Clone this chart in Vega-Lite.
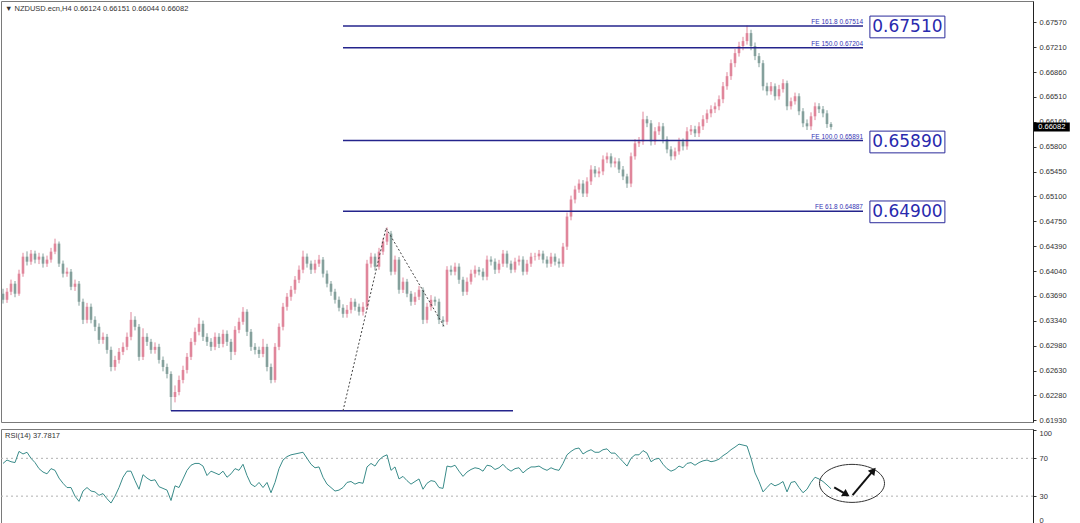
{
"$schema":"https://vega.github.io/schema/vega-lite/v6.json",
"padding":0,
"spacing":3,
"background":"white",
"config":{"view":{"stroke":"#7a7a7a","strokeWidth":1},"text":{"font":"Liberation Sans"},"axis":{"labelOverlap":false,"labelSeparation":0,"labelBound":false}},
"datasets":{
"bars":[
{"i":0,"o":0.63720,"h":0.63790,"l":0.63580,"c":0.63634,"r":64.6},
{"i":1,"o":0.63634,"h":0.63800,"l":0.63590,"c":0.63748,"r":68.2},
{"i":2,"o":0.63748,"h":0.63920,"l":0.63700,"c":0.63862,"r":66.4},
{"i":3,"o":0.63862,"h":0.63900,"l":0.63670,"c":0.63720,"r":65.5},
{"i":4,"o":0.63720,"h":0.64060,"l":0.63690,"c":0.64004,"r":77.3},
{"i":5,"o":0.64004,"h":0.64300,"l":0.63960,"c":0.64245,"r":74.6},
{"i":6,"o":0.64245,"h":0.64320,"l":0.64120,"c":0.64174,"r":76.4},
{"i":7,"o":0.64174,"h":0.64340,"l":0.64130,"c":0.64288,"r":70},
{"i":8,"o":0.64288,"h":0.64330,"l":0.64150,"c":0.64203,"r":65.5},
{"i":9,"o":0.64203,"h":0.64300,"l":0.64140,"c":0.64245,"r":59.1},
{"i":10,"o":0.64245,"h":0.64290,"l":0.64090,"c":0.64146,"r":55.5},
{"i":11,"o":0.64146,"h":0.64260,"l":0.64100,"c":0.64203,"r":53.6},
{"i":12,"o":0.64203,"h":0.64370,"l":0.64160,"c":0.64316,"r":59.1},
{"i":13,"o":0.64316,"h":0.64500,"l":0.64280,"c":0.64430,"r":57.3},
{"i":14,"o":0.64430,"h":0.64460,"l":0.64100,"c":0.64146,"r":49.1},
{"i":15,"o":0.64146,"h":0.64190,"l":0.63950,"c":0.64004,"r":43.6},
{"i":16,"o":0.64004,"h":0.64090,"l":0.63960,"c":0.64032,"r":39.1},
{"i":17,"o":0.64032,"h":0.64070,"l":0.63770,"c":0.63818,"r":39.1},
{"i":18,"o":0.63818,"h":0.63920,"l":0.63760,"c":0.63862,"r":30},
{"i":19,"o":0.63862,"h":0.63900,"l":0.63550,"c":0.63606,"r":24.5},
{"i":20,"o":0.63606,"h":0.63650,"l":0.63290,"c":0.63350,"r":35.4},
{"i":21,"o":0.63350,"h":0.63590,"l":0.63300,"c":0.63535,"r":39.1},
{"i":22,"o":0.63535,"h":0.63580,"l":0.63300,"c":0.63350,"r":35.4},
{"i":23,"o":0.63350,"h":0.63400,"l":0.63190,"c":0.63251,"r":34.5},
{"i":24,"o":0.63251,"h":0.63300,"l":0.63010,"c":0.63066,"r":30.9},
{"i":25,"o":0.63066,"h":0.63170,"l":0.63010,"c":0.63109,"r":32.7},
{"i":26,"o":0.63109,"h":0.63150,"l":0.62870,"c":0.62924,"r":27.3},
{"i":27,"o":0.62924,"h":0.62970,"l":0.62620,"c":0.62682,"r":22.7},
{"i":28,"o":0.62682,"h":0.62840,"l":0.62630,"c":0.62782,"r":30},
{"i":29,"o":0.62782,"h":0.62950,"l":0.62730,"c":0.62896,"r":39.1},
{"i":30,"o":0.62896,"h":0.63030,"l":0.62850,"c":0.62967,"r":50},
{"i":31,"o":0.62967,"h":0.63170,"l":0.62920,"c":0.63109,"r":56.4},
{"i":32,"o":0.63109,"h":0.63460,"l":0.63060,"c":0.63350,"r":56.4},
{"i":33,"o":0.63350,"h":0.63400,"l":0.63200,"c":0.63251,"r":46.4},
{"i":34,"o":0.63251,"h":0.63290,"l":0.62770,"c":0.62825,"r":37.3},
{"i":35,"o":0.62825,"h":0.63230,"l":0.62780,"c":0.63109,"r":52.7},
{"i":36,"o":0.63109,"h":0.63160,"l":0.62980,"c":0.63038,"r":49.1},
{"i":37,"o":0.63038,"h":0.63080,"l":0.62870,"c":0.62924,"r":46.4},
{"i":38,"o":0.62924,"h":0.63030,"l":0.62870,"c":0.62967,"r":47.3},
{"i":39,"o":0.62967,"h":0.63010,"l":0.62730,"c":0.62782,"r":40},
{"i":40,"o":0.62782,"h":0.62830,"l":0.62620,"c":0.62682,"r":38.2},
{"i":41,"o":0.62682,"h":0.62730,"l":0.62520,"c":0.62583,"r":36.4},
{"i":42,"o":0.62583,"h":0.62620,"l":0.62060,"c":0.62256,"r":25.4},
{"i":43,"o":0.62256,"h":0.62420,"l":0.62180,"c":0.62327,"r":40.9},
{"i":44,"o":0.62327,"h":0.62560,"l":0.62280,"c":0.62498,"r":39.1},
{"i":45,"o":0.62498,"h":0.62700,"l":0.62450,"c":0.62640,"r":48.2},
{"i":46,"o":0.62640,"h":0.62880,"l":0.62590,"c":0.62825,"r":57.3},
{"i":47,"o":0.62825,"h":0.63090,"l":0.62780,"c":0.63038,"r":62.7},
{"i":48,"o":0.63038,"h":0.63240,"l":0.62990,"c":0.63180,"r":64.6},
{"i":49,"o":0.63180,"h":0.63380,"l":0.63130,"c":0.63293,"r":64.6},
{"i":50,"o":0.63293,"h":0.63340,"l":0.63050,"c":0.63109,"r":61.8},
{"i":51,"o":0.63109,"h":0.63160,"l":0.62980,"c":0.63038,"r":51.8},
{"i":52,"o":0.63038,"h":0.63090,"l":0.62910,"c":0.62967,"r":56.4},
{"i":53,"o":0.62967,"h":0.63170,"l":0.62920,"c":0.63109,"r":54.6},
{"i":54,"o":0.63109,"h":0.63160,"l":0.62950,"c":0.63009,"r":52.7},
{"i":55,"o":0.63009,"h":0.63210,"l":0.62960,"c":0.63151,"r":56.4},
{"i":56,"o":0.63151,"h":0.63200,"l":0.62980,"c":0.63038,"r":50},
{"i":57,"o":0.63038,"h":0.63080,"l":0.62780,"c":0.62896,"r":53.6},
{"i":58,"o":0.62896,"h":0.63260,"l":0.62850,"c":0.63208,"r":59.1},
{"i":59,"o":0.63208,"h":0.63380,"l":0.63160,"c":0.63322,"r":57.3},
{"i":60,"o":0.63322,"h":0.63530,"l":0.63280,"c":0.63464,"r":63.7},
{"i":61,"o":0.63464,"h":0.63500,"l":0.63120,"c":0.63180,"r":51.8},
{"i":62,"o":0.63180,"h":0.63220,"l":0.62910,"c":0.62967,"r":42.7},
{"i":63,"o":0.62967,"h":0.63020,"l":0.62860,"c":0.62924,"r":40},
{"i":64,"o":0.62924,"h":0.62970,"l":0.62810,"c":0.62867,"r":44.5},
{"i":65,"o":0.62867,"h":0.63080,"l":0.62820,"c":0.62967,"r":39.1},
{"i":66,"o":0.62967,"h":0.63010,"l":0.62620,"c":0.62682,"r":44.5},
{"i":67,"o":0.62682,"h":0.62730,"l":0.62450,"c":0.62498,"r":33.6},
{"i":68,"o":0.62498,"h":0.63020,"l":0.62460,"c":0.62967,"r":44.5},
{"i":69,"o":0.62967,"h":0.63300,"l":0.62920,"c":0.63251,"r":59.1},
{"i":70,"o":0.63251,"h":0.63590,"l":0.63200,"c":0.63535,"r":68.2},
{"i":71,"o":0.63535,"h":0.63730,"l":0.63480,"c":0.63677,"r":71.8},
{"i":72,"o":0.63677,"h":0.63830,"l":0.63620,"c":0.63776,"r":73.7},
{"i":73,"o":0.63776,"h":0.63970,"l":0.63720,"c":0.63918,"r":74.6},
{"i":74,"o":0.63918,"h":0.64120,"l":0.63870,"c":0.64060,"r":75.5},
{"i":75,"o":0.64060,"h":0.64330,"l":0.64010,"c":0.64245,"r":76.4},
{"i":76,"o":0.64245,"h":0.64290,"l":0.64090,"c":0.64146,"r":70},
{"i":77,"o":0.64146,"h":0.64190,"l":0.64000,"c":0.64060,"r":63.7},
{"i":78,"o":0.64060,"h":0.64200,"l":0.64010,"c":0.64146,"r":60},
{"i":79,"o":0.64146,"h":0.64270,"l":0.64100,"c":0.64203,"r":60.9},
{"i":80,"o":0.64203,"h":0.64240,"l":0.63950,"c":0.64004,"r":50},
{"i":81,"o":0.64004,"h":0.64050,"l":0.63810,"c":0.63862,"r":42.7},
{"i":82,"o":0.63862,"h":0.63900,"l":0.63690,"c":0.63748,"r":39.1},
{"i":83,"o":0.63748,"h":0.63790,"l":0.63580,"c":0.63634,"r":35.4},
{"i":84,"o":0.63634,"h":0.63680,"l":0.63470,"c":0.63521,"r":36.4},
{"i":85,"o":0.63521,"h":0.63570,"l":0.63380,"c":0.63435,"r":39.1},
{"i":86,"o":0.63435,"h":0.63560,"l":0.63380,"c":0.63492,"r":44.5},
{"i":87,"o":0.63492,"h":0.63660,"l":0.63440,"c":0.63606,"r":45.5},
{"i":88,"o":0.63606,"h":0.63650,"l":0.63480,"c":0.63535,"r":42.7},
{"i":89,"o":0.63535,"h":0.63580,"l":0.63410,"c":0.63464,"r":44.5},
{"i":90,"o":0.63464,"h":0.63600,"l":0.63410,"c":0.63535,"r":43.6},
{"i":91,"o":0.63535,"h":0.64200,"l":0.63490,"c":0.64146,"r":60.9},
{"i":92,"o":0.64146,"h":0.64300,"l":0.64090,"c":0.64245,"r":64.6},
{"i":93,"o":0.64245,"h":0.64290,"l":0.64050,"c":0.64103,"r":61.8},
{"i":94,"o":0.64103,"h":0.64370,"l":0.64060,"c":0.64316,"r":68.2},
{"i":95,"o":0.64316,"h":0.64510,"l":0.64270,"c":0.64458,"r":71.8},
{"i":96,"o":0.64458,"h":0.64660,"l":0.64410,"c":0.64572,"r":73.7},
{"i":97,"o":0.64572,"h":0.64610,"l":0.63980,"c":0.64032,"r":57.3},
{"i":98,"o":0.64032,"h":0.64260,"l":0.63990,"c":0.64203,"r":60.9},
{"i":99,"o":0.64203,"h":0.64240,"l":0.63720,"c":0.63776,"r":48.2},
{"i":100,"o":0.63776,"h":0.63950,"l":0.63730,"c":0.63890,"r":50.9},
{"i":101,"o":0.63890,"h":0.63930,"l":0.63670,"c":0.63720,"r":46.4},
{"i":102,"o":0.63720,"h":0.63760,"l":0.63550,"c":0.63606,"r":42.7},
{"i":103,"o":0.63606,"h":0.63740,"l":0.63560,"c":0.63677,"r":45.5},
{"i":104,"o":0.63677,"h":0.63830,"l":0.63630,"c":0.63776,"r":48.2},
{"i":105,"o":0.63776,"h":0.63810,"l":0.63290,"c":0.63350,"r":37.3},
{"i":106,"o":0.63350,"h":0.63590,"l":0.63300,"c":0.63535,"r":43.6},
{"i":107,"o":0.63535,"h":0.63700,"l":0.63480,"c":0.63634,"r":46.4},
{"i":108,"o":0.63634,"h":0.63680,"l":0.63550,"c":0.63606,"r":45.5},
{"i":109,"o":0.63606,"h":0.63650,"l":0.63290,"c":0.63350,"r":39.1},
{"i":110,"o":0.63350,"h":0.63400,"l":0.63250,"c":0.63322,"r":38.2},
{"i":111,"o":0.63322,"h":0.64110,"l":0.63280,"c":0.64060,"r":61.8},
{"i":112,"o":0.64060,"h":0.64120,"l":0.63980,"c":0.64032,"r":60.9},
{"i":113,"o":0.64032,"h":0.64160,"l":0.63980,"c":0.64103,"r":62.7},
{"i":114,"o":0.64103,"h":0.64150,"l":0.63860,"c":0.63918,"r":56.4},
{"i":115,"o":0.63918,"h":0.63960,"l":0.63690,"c":0.63748,"r":50.9},
{"i":116,"o":0.63748,"h":0.63950,"l":0.63700,"c":0.63890,"r":55.5},
{"i":117,"o":0.63890,"h":0.64060,"l":0.63850,"c":0.64004,"r":58.2},
{"i":118,"o":0.64004,"h":0.64120,"l":0.63950,"c":0.64060,"r":60},
{"i":119,"o":0.64060,"h":0.64100,"l":0.63980,"c":0.64032,"r":59.1},
{"i":120,"o":0.64032,"h":0.64080,"l":0.63910,"c":0.63961,"r":56.4},
{"i":121,"o":0.63961,"h":0.64260,"l":0.63910,"c":0.64203,"r":62.7},
{"i":122,"o":0.64203,"h":0.64250,"l":0.64120,"c":0.64174,"r":61.8},
{"i":123,"o":0.64174,"h":0.64220,"l":0.64000,"c":0.64060,"r":58.2},
{"i":124,"o":0.64060,"h":0.64200,"l":0.64010,"c":0.64146,"r":60},
{"i":125,"o":0.64146,"h":0.64340,"l":0.64100,"c":0.64288,"r":63.7},
{"i":126,"o":0.64288,"h":0.64330,"l":0.64090,"c":0.64146,"r":59.1},
{"i":127,"o":0.64146,"h":0.64190,"l":0.64010,"c":0.64060,"r":56.4},
{"i":128,"o":0.64060,"h":0.64230,"l":0.64020,"c":0.64174,"r":59.1},
{"i":129,"o":0.64174,"h":0.64260,"l":0.64120,"c":0.64203,"r":60},
{"i":130,"o":0.64203,"h":0.64250,"l":0.63980,"c":0.64032,"r":54.6},
{"i":131,"o":0.64032,"h":0.64200,"l":0.63990,"c":0.64146,"r":58.2},
{"i":132,"o":0.64146,"h":0.64300,"l":0.64100,"c":0.64245,"r":60.9},
{"i":133,"o":0.64245,"h":0.64300,"l":0.64190,"c":0.64250,"r":60.9},
{"i":134,"o":0.64250,"h":0.64340,"l":0.64200,"c":0.64288,"r":61.8},
{"i":135,"o":0.64288,"h":0.64330,"l":0.64150,"c":0.64203,"r":59.1},
{"i":136,"o":0.64203,"h":0.64250,"l":0.64090,"c":0.64146,"r":57.3},
{"i":137,"o":0.64146,"h":0.64300,"l":0.64100,"c":0.64245,"r":60},
{"i":138,"o":0.64245,"h":0.64290,"l":0.64120,"c":0.64174,"r":58.2},
{"i":139,"o":0.64174,"h":0.64220,"l":0.64090,"c":0.64146,"r":57.3},
{"i":140,"o":0.64146,"h":0.64440,"l":0.64100,"c":0.64387,"r":64.6},
{"i":141,"o":0.64387,"h":0.64870,"l":0.64340,"c":0.64813,"r":73.7},
{"i":142,"o":0.64813,"h":0.65110,"l":0.64760,"c":0.65055,"r":77.3},
{"i":143,"o":0.65055,"h":0.65250,"l":0.65000,"c":0.65197,"r":80},
{"i":144,"o":0.65197,"h":0.65340,"l":0.65150,"c":0.65281,"r":80.9},
{"i":145,"o":0.65281,"h":0.65330,"l":0.65090,"c":0.65140,"r":74.6},
{"i":146,"o":0.65140,"h":0.65370,"l":0.65090,"c":0.65311,"r":77.3},
{"i":147,"o":0.65311,"h":0.65540,"l":0.65260,"c":0.65480,"r":79.1},
{"i":148,"o":0.65480,"h":0.65530,"l":0.65370,"c":0.65424,"r":76.4},
{"i":149,"o":0.65424,"h":0.65510,"l":0.65370,"c":0.65453,"r":76.4},
{"i":150,"o":0.65453,"h":0.65680,"l":0.65400,"c":0.65623,"r":79.1},
{"i":151,"o":0.65623,"h":0.65720,"l":0.65570,"c":0.65667,"r":80},
{"i":152,"o":0.65667,"h":0.65710,"l":0.65510,"c":0.65566,"r":75.5},
{"i":153,"o":0.65566,"h":0.65650,"l":0.65510,"c":0.65595,"r":75.5},
{"i":154,"o":0.65595,"h":0.65640,"l":0.65430,"c":0.65480,"r":70.9},
{"i":155,"o":0.65480,"h":0.65530,"l":0.65330,"c":0.65382,"r":66.4},
{"i":156,"o":0.65382,"h":0.65420,"l":0.65220,"c":0.65281,"r":61.8},
{"i":157,"o":0.65281,"h":0.65720,"l":0.65230,"c":0.65667,"r":70},
{"i":158,"o":0.65667,"h":0.65910,"l":0.65620,"c":0.65851,"r":73.7},
{"i":159,"o":0.65851,"h":0.65940,"l":0.65800,"c":0.65878,"r":73.7},
{"i":160,"o":0.65878,"h":0.66300,"l":0.65830,"c":0.66192,"r":78.2},
{"i":161,"o":0.66192,"h":0.66240,"l":0.66080,"c":0.66135,"r":75.5},
{"i":162,"o":0.66135,"h":0.66180,"l":0.65820,"c":0.65878,"r":66.4},
{"i":163,"o":0.65878,"h":0.66080,"l":0.65830,"c":0.66021,"r":69.1},
{"i":164,"o":0.66021,"h":0.66150,"l":0.65970,"c":0.66092,"r":70},
{"i":165,"o":0.66092,"h":0.66140,"l":0.65850,"c":0.65907,"r":63.7},
{"i":166,"o":0.65907,"h":0.65950,"l":0.65710,"c":0.65765,"r":59.1},
{"i":167,"o":0.65765,"h":0.65810,"l":0.65610,"c":0.65667,"r":56.4},
{"i":168,"o":0.65667,"h":0.65790,"l":0.65620,"c":0.65737,"r":58.2},
{"i":169,"o":0.65737,"h":0.65930,"l":0.65690,"c":0.65878,"r":61.8},
{"i":170,"o":0.65878,"h":0.65920,"l":0.65750,"c":0.65808,"r":60},
{"i":171,"o":0.65808,"h":0.66080,"l":0.65760,"c":0.66021,"r":64.6},
{"i":172,"o":0.66021,"h":0.66110,"l":0.65970,"c":0.66050,"r":65.5},
{"i":173,"o":0.66050,"h":0.66100,"l":0.65940,"c":0.65993,"r":62.7},
{"i":174,"o":0.65993,"h":0.66150,"l":0.65940,"c":0.66092,"r":65.5},
{"i":175,"o":0.66092,"h":0.66250,"l":0.66040,"c":0.66192,"r":67.3},
{"i":176,"o":0.66192,"h":0.66330,"l":0.66140,"c":0.66276,"r":68.2},
{"i":177,"o":0.66276,"h":0.66390,"l":0.66220,"c":0.66334,"r":66.4},
{"i":178,"o":0.66334,"h":0.66430,"l":0.66280,"c":0.66376,"r":67.3},
{"i":179,"o":0.66376,"h":0.66530,"l":0.66320,"c":0.66476,"r":69.1},
{"i":180,"o":0.66476,"h":0.66720,"l":0.66420,"c":0.66660,"r":72.8},
{"i":181,"o":0.66660,"h":0.66860,"l":0.66610,"c":0.66803,"r":75.5},
{"i":182,"o":0.66803,"h":0.67040,"l":0.66750,"c":0.66987,"r":79.1},
{"i":183,"o":0.66987,"h":0.67190,"l":0.66930,"c":0.67129,"r":81.9},
{"i":184,"o":0.67129,"h":0.67290,"l":0.67080,"c":0.67229,"r":85},
{"i":185,"o":0.67229,"h":0.67360,"l":0.67170,"c":0.67300,"r":84},
{"i":186,"o":0.67300,"h":0.67520,"l":0.67250,"c":0.67413,"r":83},
{"i":187,"o":0.67413,"h":0.67460,"l":0.67170,"c":0.67229,"r":70},
{"i":188,"o":0.67229,"h":0.67280,"l":0.67030,"c":0.67087,"r":54.6},
{"i":189,"o":0.67087,"h":0.67130,"l":0.66930,"c":0.66987,"r":45.5},
{"i":190,"o":0.66987,"h":0.67030,"l":0.66600,"c":0.66660,"r":34.5},
{"i":191,"o":0.66660,"h":0.66710,"l":0.66530,"c":0.66589,"r":39.1},
{"i":192,"o":0.66589,"h":0.66720,"l":0.66540,"c":0.66660,"r":43.6},
{"i":193,"o":0.66660,"h":0.66700,"l":0.66460,"c":0.66518,"r":40.9},
{"i":194,"o":0.66518,"h":0.66680,"l":0.66470,"c":0.66618,"r":42.7},
{"i":195,"o":0.66618,"h":0.66760,"l":0.66570,"c":0.66703,"r":45.5},
{"i":196,"o":0.66703,"h":0.66740,"l":0.66320,"c":0.66376,"r":34.5},
{"i":197,"o":0.66376,"h":0.66500,"l":0.66330,"c":0.66447,"r":44.5},
{"i":198,"o":0.66447,"h":0.66570,"l":0.66400,"c":0.66518,"r":45.5},
{"i":199,"o":0.66518,"h":0.66560,"l":0.66250,"c":0.66305,"r":39.1},
{"i":200,"o":0.66305,"h":0.66350,"l":0.66080,"c":0.66135,"r":33.6},
{"i":201,"o":0.66135,"h":0.66190,"l":0.66040,"c":0.66092,"r":37.3},
{"i":202,"o":0.66092,"h":0.66290,"l":0.66040,"c":0.66234,"r":44.5},
{"i":203,"o":0.66234,"h":0.66430,"l":0.66180,"c":0.66376,"r":50},
{"i":204,"o":0.66376,"h":0.66420,"l":0.66280,"c":0.66334,"r":48.2},
{"i":205,"o":0.66334,"h":0.66380,"l":0.66220,"c":0.66276,"r":45.5},
{"i":206,"o":0.66276,"h":0.66320,"l":0.66070,"c":0.66124,"r":41.8},
{"i":207,"o":0.66124,"h":0.66151,"l":0.66044,"c":0.66082,"r":37.7817}
],
"levels":[
{"lab":"FE 161.8  0.67514","p":0.67514,"a":85,"b":215},
{"lab":"FE 150.0  0.67204","p":0.67204,"a":85,"b":215},
{"lab":"FE 100.0  0.65891","p":0.65891,"a":85,"b":215},
{"lab":"FE 61.8  0.64887","p":0.64887,"a":85,"b":215}
],
"boxes":[
{"t":"0.67510","p":0.67500,"i":226.1},
{"t":"0.65890","p":0.65870,"i":226.1},
{"t":"0.64900","p":0.64880,"i":226.1}
],
"base":[{"p":0.62060,"a":42,"b":127.5}],
"zig":[
{"k":1,"i":85,"p":0.62060},
{"k":2,"i":95.75,"p":0.64650},
{"k":3,"i":110.25,"p":0.63260}
],
"head":[{"t":"▼ NZDUSD.ecn,H4  0.66124 0.66151 0.66044 0.66082","i":0.5,"p":0.67752}],
"tag":[{"t":"0.66082","i":262.2,"p":0.66082}],
"rsihead":[{"t":"RSI(14) 37.7817","i":0.5,"r":94}],
"oval":[{"i":212.25,"r":43.5}],
"arrow1":[{"i":207.8,"r":39.4,"i2":210.6,"r2":32.5}],
"arrow2":[{"i":212.4,"r":31,"i2":217.4,"r2":56.1}]
},
"vconcat":[
{
"width":1032,"height":421,
"layer":[
{"data":{"name":"bars"},"mark":{"type":"rule","strokeWidth":1},
 "encoding":{
  "x":{"field":"i","type":"quantitative","scale":{"domain":[-0.5,257.5],"nice":false,"zero":false},"axis":null},
  "y":{"field":"l","type":"quantitative","scale":{"domain":[0.61902,0.67868],"nice":false,"zero":false},
       "axis":{"orient":"right","values":[0.6193,0.6228,0.6263,0.6298,0.6334,0.6369,0.6404,0.6439,0.6475,0.651,0.6545,0.658,0.6616,0.6651,0.6686,0.6721,0.6757],"tickCount":60,"format":".5f","labelOverlap":false,"labelFont":"Liberation Sans","labelFontSize":7.5,"labelColor":"#333","tickSize":3,"tickColor":"#333","domainColor":"#222","grid":false,"title":null,"labelPadding":3}},
  "y2":{"field":"h"},
  "color":{"condition":{"test":"datum.c >= datum.o","value":"#e0869b"},"value":"#84a09c"}}},
{"data":{"name":"bars"},"mark":{"type":"rule","strokeWidth":2.6,"strokeCap":"butt"},
 "encoding":{
  "x":{"field":"i","type":"quantitative"},
  "y":{"field":"o","type":"quantitative"},
  "y2":{"field":"c"},
  "color":{"condition":{"test":"datum.c >= datum.o","value":"#e0869b"},"value":"#84a09c"}}},
{"data":{"name":"levels"},"mark":{"type":"rule","color":"#24248c","strokeWidth":1.5},
 "encoding":{"x":{"field":"a","type":"quantitative"},"x2":{"field":"b"},"y":{"field":"p","type":"quantitative"}}},
{"data":{"name":"base"},"mark":{"type":"rule","color":"#24248c","strokeWidth":1.5},
 "encoding":{"x":{"field":"a","type":"quantitative"},"x2":{"field":"b"},"y":{"field":"p","type":"quantitative"}}},
{"data":{"name":"levels"},"mark":{"type":"text","align":"right","baseline":"bottom","dy":-1,"fontSize":6.5,"color":"#3434b4","font":"Liberation Sans"},
 "encoding":{"x":{"field":"b","type":"quantitative"},"y":{"field":"p","type":"quantitative"},"text":{"field":"lab"}}},
{"data":{"name":"zig"},"mark":{"type":"line","color":"#444","strokeWidth":1,"strokeDash":[2,2]},
 "encoding":{"x":{"field":"i","type":"quantitative"},"y":{"field":"p","type":"quantitative"},"order":{"field":"k"}}},
{"data":{"name":"boxes"},"mark":{"type":"point","shape":"M-1,-0.29H1V0.29H-1Z","size":5625,"filled":true,"fill":"white","stroke":"#2a2a9a","strokeWidth":1,"opacity":1},
 "encoding":{"x":{"field":"i","type":"quantitative"},"y":{"field":"p","type":"quantitative"}}},
{"data":{"name":"boxes"},"mark":{"type":"text","align":"center","baseline":"middle","fontSize":17,"font":"DejaVu Sans","color":"#2a2aae"},
 "encoding":{"x":{"field":"i","type":"quantitative"},"y":{"field":"p","type":"quantitative"},"text":{"field":"t"}}},
{"data":{"name":"head"},"mark":{"type":"text","align":"left","baseline":"middle","fontSize":7.5,"color":"#333","font":"Liberation Sans"},
 "encoding":{"x":{"field":"i","type":"quantitative"},"y":{"field":"p","type":"quantitative"},"text":{"field":"t"}}},
{"data":{"name":"tag"},"mark":{"type":"point","shape":"M-1,-0.25H1V0.25H-1Z","size":1296,"filled":true,"fill":"black","opacity":1,"strokeWidth":0},
 "encoding":{"x":{"field":"i","type":"quantitative"},"y":{"field":"p","type":"quantitative"}}},
{"data":{"name":"tag"},"mark":{"type":"text","align":"center","baseline":"middle","fontSize":7.5,"color":"white","font":"Liberation Sans"},
 "encoding":{"x":{"field":"i","type":"quantitative"},"y":{"field":"p","type":"quantitative"},"text":{"field":"t"}}}
]
},
{
"width":1032,"height":96,
"layer":[
{"data":{"values":[{"lv":30},{"lv":70}]},"mark":{"type":"rule","color":"#b0b0b0","strokeWidth":1,"strokeDash":[2,3]},
 "encoding":{"y":{"field":"lv","type":"quantitative","scale":{"domain":[-0.5,101],"nice":false,"zero":false},
   "axis":{"orient":"right","values":[0,30,70,100],"tickCount":20,"labelOverlap":false,"labelFlush":true,"labelFont":"Liberation Sans","labelFontSize":7.5,"labelColor":"#333","tickSize":3,"tickColor":"#333","domainColor":"#222","grid":false,"title":null,"labelPadding":3}}}},
{"data":{"name":"bars"},"mark":{"type":"line","color":"#3a8c8a","strokeWidth":1},
 "encoding":{
  "x":{"field":"i","type":"quantitative","scale":{"domain":[-0.5,257.5],"nice":false,"zero":false},
       "axis":{"orient":"bottom","values":[12,24,36,48,60,72,84,96,108,120,132,144,156,168,180,192,204,216,228,240,252],"tickCount":60,"labels":false,"tickSize":3,"tickColor":"#333","domain":false,"grid":false,"title":null}},
  "y":{"field":"r","type":"quantitative"}}},
{"data":{"name":"rsihead"},"mark":{"type":"text","align":"left","baseline":"middle","fontSize":7.5,"color":"#333","font":"Liberation Sans"},
 "encoding":{"x":{"field":"i","type":"quantitative"},"y":{"field":"r","type":"quantitative"},"text":{"field":"t"}}},
{"data":{"name":"oval"},"mark":{"type":"point","shape":"M-1,0A1,0.585 0 1,0 1,0A1,0.585 0 1,0 -1,0Z","size":4225,"filled":false,"stroke":"#333","strokeWidth":1,"opacity":1},
 "encoding":{"x":{"field":"i","type":"quantitative"},"y":{"field":"r","type":"quantitative"}}},
{"data":{"name":"arrow1"},"mark":{"type":"rule","color":"#111","strokeWidth":2},
 "encoding":{"x":{"field":"i","type":"quantitative"},"x2":{"field":"i2"},"y":{"field":"r","type":"quantitative"},"y2":{"field":"r2"}}},
{"data":{"name":"arrow2"},"mark":{"type":"rule","color":"#111","strokeWidth":2},
 "encoding":{"x":{"field":"i","type":"quantitative"},"x2":{"field":"i2"},"y":{"field":"r","type":"quantitative"},"y2":{"field":"r2"}}},
{"data":{"name":"arrow1"},"mark":{"type":"point","shape":"triangle","angle":122,"size":70,"filled":true,"color":"#111","opacity":1},
 "encoding":{"x":{"field":"i2","type":"quantitative"},"y":{"field":"r2","type":"quantitative"}}},
{"data":{"name":"arrow2"},"mark":{"type":"point","shape":"triangle","angle":39,"size":70,"filled":true,"color":"#111","opacity":1},
 "encoding":{"x":{"field":"i2","type":"quantitative"},"y":{"field":"r2","type":"quantitative"}}}
]
}
]
}
